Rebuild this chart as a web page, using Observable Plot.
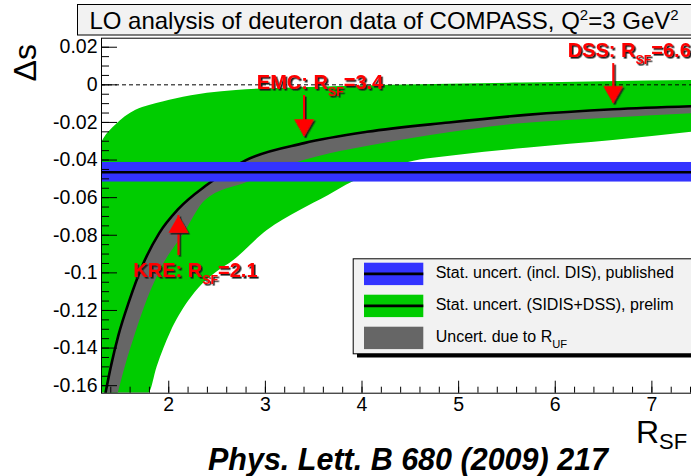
<!DOCTYPE html>
<html>
<head>
<meta charset="utf-8">
<script src="https://cdn.jsdelivr.net/npm/d3@7"></script>
<script src="https://cdn.jsdelivr.net/npm/@observablehq/plot@0.6"></script>
<style>
  html, body { margin: 0; padding: 0; background: #fff; overflow: hidden; }
  #chart { position: relative; width: 691px; height: 476px; overflow: hidden; }
</style>
</head>
<body>
<div id="chart"></div>
<script>
// LO extraction of the strange-quark polarisation Δs versus the fragmentation ratio R_SF

// Central Δs curve (black line) and lower edge of the R_UF uncertainty (grey band)
const centralRsf = [1.345, 1.40, 1.48, 1.59, 1.72, 1.90, 2.10, 2.40, 2.80, 3.40, 4.05, 4.90, 5.70, 6.60, 7.41];
const centralDs  = [-0.164, -0.150, -0.133, -0.115, -0.097, -0.079, -0.066, -0.053, -0.040, -0.031, -0.025, -0.020, -0.016, -0.013, -0.0114];
const rufLowRsf  = [1.477, 1.55, 1.656, 1.776, 1.93, 2.155, 2.38, 2.81, 3.40, 3.67, 4.05, 4.71, 5.64, 6.60, 7.41];
const rufLowDs   = [-0.164, -0.150, -0.1324, -0.1147, -0.097, -0.0793, -0.0615, -0.052, -0.0403, -0.0367, -0.0328, -0.027, -0.0207, -0.0176, -0.0154];

// Statistical uncertainty band (SIDIS+DSS, preliminary): upper and lower edges
const statUpRsf  = [1.304, 1.35, 1.40, 1.45, 1.55, 1.66, 1.80, 1.95, 2.07, 2.40, 2.70, 3.20, 3.70, 4.30, 4.90, 5.64, 6.50, 7.41];
const statUpDs   = [-0.031, -0.027, -0.024, -0.0215, -0.017, -0.0135, -0.011, -0.009, -0.0075, -0.0045, -0.003, -0.0018, -0.001, -0.0002, 0.0003, 0.001, 0.0017, 0.0023];
const statLowRsf = [1.304, 1.793, 1.88, 2.018, 2.207, 2.35, 2.50, 2.67, 3.02, 3.36, 3.65, 3.90, 4.20, 4.47, 5.00, 5.70, 6.60, 7.41];
const statLowDs  = [-0.164, -0.164, -0.150, -0.132, -0.115, -0.106, -0.0995, -0.0935, -0.0775, -0.0669, -0.059, -0.0518, -0.046, -0.0415, -0.0375, -0.0337, -0.0296, -0.0252];

// Published result (incl. DIS): central value and statistical error
const publishedDs = -0.0465;
const publishedErr = 0.0052;

// Fragmentation-function sets marked with arrows
const ffNames   = ["KRE", "EMC", "DSS"];
const ffRsf     = [2.1, 3.4, 6.6];
const arrowTail = [-0.0908, -0.0057, 0.0113];
const arrowTip  = [-0.0695, -0.0275, -0.0098];

// Axis ticks and their labels
const yTicks = [0.02, 0, -0.02, -0.04, -0.06, -0.08, -0.1, -0.12, -0.14, -0.16];
const yTickLabels = ["0.02", "0", "-0.02", "-0.04", "-0.06", "-0.08", "-0.1", "-0.12", "-0.14", "-0.16"];
const xTicks = [2, 3, 4, 5, 6, 7];
const xTickLabels = ["2", "3", "4", "5", "6", "7"];

const legendLabels = ["Stat. uncert. (incl. DIS), published", "Stat. uncert. (SIDIS+DSS), prelim", "Uncert. due to R_{UF}"];
const titleText = "LO analysis of deuteron data of COMPASS, Q";
const captionText = "Phys. Lett. B 680 (2009) 217";

// ---- layout and styles ----
const FONT = '"Liberation Sans", Arial, Helvetica, sans-serif';
const W = 691, H = 476;
const M = {top: 37.7, right: 0, bottom: 83.3, left: 101};
const innerW = W - M.left - M.right;
const innerH = H - M.top - M.bottom;
const xDomain = [1.304, 7.41];
const yDomain = [-0.164, 0.0248];
const GREEN = "#00cc00", BLUE = "#3333ff", GREY = "#666666", RED = "#ff0000";

const statBand = statUpRsf.map((x, i) => ({x1: x, y1: statUpDs[i], x2: statLowRsf[i], y2: statLowDs[i]}));
const rufBand = centralRsf.map((x, i) => ({x1: x, y1: centralDs[i], x2: rufLowRsf[i], y2: rufLowDs[i]}));
const central = centralRsf.map((x, i) => ({x, y: centralDs[i]}));
const arrows = ffNames.map((n, i) => ({label: `${n}: R_{SF}=${ffRsf[i]}`, x: ffRsf[i], tail: arrowTail[i], tip: arrowTip[i], up: arrowTip[i] > arrowTail[i]}));
const upArrows = arrows.filter(d => d.up);
const downArrows = arrows.filter(d => !d.up);

const yMinor = d3.range(-0.16, 0.0249, 0.005).map(v => +v.toFixed(3));
const xMinor = d3.range(1.4, 7.41, 0.2).map(v => +v.toFixed(1));

const headR = 7.4, headOff = 11.5;
const annot = {fill: RED, className: "annot"};

const svg = Plot.plot({
  width: W, height: H,
  marginTop: M.top, marginRight: M.right, marginBottom: M.bottom, marginLeft: M.left,
  style: {fontFamily: FONT, fontSize: "19.5px", color: "black", background: "white", overflow: "hidden"},
  x: {domain: xDomain, label: null},
  y: {domain: yDomain, label: null},
  marks: [
    Plot.area(statBand, {x1: "x1", y1: "y1", x2: "x2", y2: "y2", fill: GREEN, curve: "monotone-x", clip: true}),
    Plot.ruleY([0], {stroke: "black", strokeWidth: 1, strokeDasharray: "4,3"}),
    Plot.area(rufBand, {x1: "x1", y1: "y1", x2: "x2", y2: "y2", fill: GREY, curve: "monotone-x", clip: true}),
    Plot.line(central, {x: "x", y: "y", stroke: "black", strokeWidth: 2.6, curve: "monotone-x", clip: true}),
    Plot.rect([publishedDs], {x1: () => xDomain[0], x2: () => xDomain[1], y1: d => d - publishedErr, y2: d => d + publishedErr, fill: BLUE}),
    Plot.ruleY([publishedDs], {stroke: "black", strokeWidth: 2.6}),
    // inward ticks
    Plot.tickY(yTicks, {y: d => d, stroke: "black", insetRight: innerW - 16}),
    Plot.tickY(yMinor, {y: d => d, stroke: "black", insetRight: innerW - 8}),
    Plot.tickX(xTicks, {x: d => d, stroke: "black", insetTop: innerH - 12}),
    Plot.tickX(xMinor, {x: d => d, stroke: "black", insetTop: innerH - 6}),
    Plot.axisY(yTicks, {anchor: "left", tickSize: 0, tickPadding: 4, tickFormat: d => yTickLabels[yTicks.indexOf(d)], label: null}),
    Plot.axisX(xTicks, {anchor: "bottom", tickSize: 0, tickPadding: 4, tickFormat: d => xTickLabels[xTicks.indexOf(d)], label: null}),
    Plot.frame({stroke: "black", strokeWidth: 1}),
    // arrows and labels for the fragmentation-function sets
    Plot.ruleX(arrows, {x: "x", y1: "tail", y2: "tip", stroke: RED, strokeWidth: 2, className: "annot"}),
    Plot.dot(upArrows, {x: "x", y: "tip", symbol: "triangle", r: headR, stroke: null, dy: headOff, ...annot}),
    Plot.dot(downArrows, {x: "x", y: "tip", symbol: "triangle", r: headR, rotate: 180, stroke: null, dy: -headOff, ...annot}),
    Plot.text(upArrows, {x: "x", y: "tail", text: "label", fontSize: 20, fontWeight: "bold", dx: 17, dy: 15, ...annot}),
    Plot.text(downArrows, {x: "x", y: "tail", text: "label", fontSize: 20, fontWeight: "bold", dx: 16, dy: -12.5, ...annot})
  ]
});

const root = d3.select(svg);

// Dark offset shadow under the red annotations
root.append("defs").append("filter").attr("id", "annot-shadow")
  .attr("x", "-10%").attr("y", "-10%").attr("width", "130%").attr("height", "140%")
  .append("feDropShadow").attr("dx", 1.6).attr("dy", 1.6).attr("stdDeviation", 0)
  .attr("flood-color", "#1a1a1a").attr("flood-opacity", 1);
root.selectAll("g.annot").attr("filter", "url(#annot-shadow)");

// Turn "A_{B}C" into text with a lowered, smaller B
function subscript(textEl, fontSize, scale, shift) {
  const s = textEl.textContent;
  const m = s.match(/^(.*)_\{(.*?)\}(.*)$/);
  if (!m) return;
  const t = d3.select(textEl);
  t.text(null);
  t.append("tspan").text(m[1]);
  t.append("tspan").attr("font-size", fontSize * scale).attr("dy", shift).text(m[2]);
  t.append("tspan").attr("font-size", fontSize).attr("dy", -shift).text(m[3]);
}
root.selectAll("g.annot text").each(function() { subscript(this, 20, 0.62, 7); });

// Title box
const tg = root.append("g");
tg.append("rect").attr("x", 77.5).attr("y", 4.5).attr("width", 640).attr("height", 30.5)
  .attr("fill", "#f2f2f2").attr("stroke", "black");
const tt = tg.append("text").attr("x", 384).attr("y", 28.5).attr("text-anchor", "middle")
  .attr("font-family", FONT).attr("font-size", 24);
tt.append("tspan").text(titleText);
tt.append("tspan").attr("font-size", 15).attr("dy", -9).text("2");
tt.append("tspan").attr("font-size", 24).attr("dy", 9).text("=3 GeV");
tt.append("tspan").attr("font-size", 15).attr("dy", -9).text("2");

// Axis titles
root.append("text").attr("transform", "translate(36,44) rotate(-90)").attr("text-anchor", "end")
  .attr("font-family", FONT).attr("font-size", 32).text("Δs");
const xt = root.append("text").attr("x", 636).attr("y", 443).attr("text-anchor", "start")
  .attr("font-family", FONT).attr("font-size", 32);
xt.append("tspan").text("R");
xt.append("tspan").attr("font-size", 22).attr("dy", 6).text("SF");

// Legend
const lg = root.append("g").attr("font-family", FONT).attr("font-size", 16).attr("text-anchor", "start");
lg.append("rect").attr("x", 357).attr("y", 262.5).attr("width", 360).attr("height", 95).attr("fill", "black");
lg.append("rect").attr("x", 353.2).attr("y", 258.8).attr("width", 360).attr("height", 95)
  .attr("fill", "#f2f2f2").attr("stroke", "black");
const swatch = [BLUE, GREEN, GREY];
legendLabels.forEach((lab, i) => {
  const y0 = 262.7 + i * 32;
  lg.append("rect").attr("x", 364).attr("y", y0).attr("width", 59.3).attr("height", 22.4).attr("fill", swatch[i]);
  if (i < 2) lg.append("line").attr("x1", 364).attr("x2", 423.3).attr("y1", y0 + 11.2).attr("y2", y0 + 11.2)
    .attr("stroke", "black").attr("stroke-width", 2.6);
  const t = lg.append("text").attr("x", 435.7).attr("y", y0 + 14.8).attr("text-anchor", "start").text(lab);
  subscript(t.node(), 16, 0.7, 6);
});

// Reference caption
root.append("text").attr("x", 408).attr("y", 470).attr("text-anchor", "middle")
  .attr("font-family", FONT).attr("font-size", 30.5).attr("font-weight", "bold").attr("font-style", "italic")
  .text(captionText);

document.getElementById("chart").appendChild(svg);
</script>
</body>
</html>
